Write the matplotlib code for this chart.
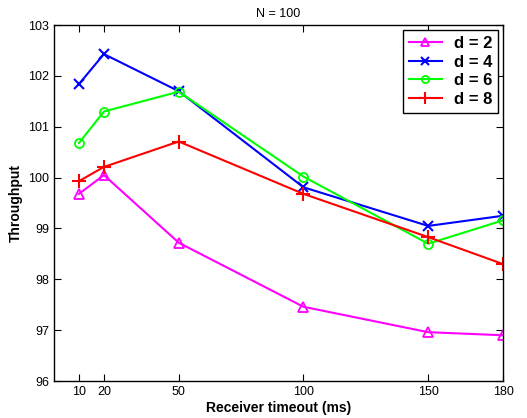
import matplotlib
matplotlib.use('Agg')
from matplotlib import pyplot as plt

plt.rcParams['font.family'] = ['Liberation Sans', 'DejaVu Sans']

timeout = [10, 20, 50, 100, 150, 180]
d2 = [99.68, 100.05, 98.72, 97.46, 96.96, 96.90]
d4 = [101.84, 102.43, 101.70, 99.81, 99.05, 99.25]
d6 = [100.68, 101.30, 101.69, 100.02, 98.70, 99.16]
d8 = [99.93, 100.21, 100.71, 99.68, 98.83, 98.30]

fig = plt.figure(figsize=(5.27, 4.18), dpi=100)
ax = fig.add_axes([0.1025, 0.0885, 0.852, 0.8515])

ax.plot(timeout, d2, '-^', color='#ff00ff', lw=1.5, ms=7, mfc='none', mew=1.3, label='d = 2')
ax.plot(timeout, d4, '-x', color='#0000ff', lw=1.5, ms=7, mew=1.5, label='d = 4')
ax.plot(timeout, d6, '-o', color='#00ff00', lw=1.5, ms=6.5, mfc='none', mew=1.3, label='d = 6')
ax.plot(timeout, d8, '-+', color='#ff0000', lw=1.5, ms=10, mew=1.5, label='d = 8')

ax.set_xlim(0, 180)
ax.set_ylim(96, 103)
ax.set_xticks(timeout)
ax.set_yticks(range(96, 104))
ax.tick_params(direction='in', top=True, right=True, labelsize=9, length=5)
for s in ax.spines.values():
    s.set_linewidth(1.0)

ax.set_title('N = 100', fontsize=9)
ax.set_xlabel('Receiver timeout (ms)', fontsize=10, fontweight='bold', labelpad=2)
ax.set_ylabel('Throughput', fontsize=10, fontweight='bold')

leg = ax.legend(loc='upper right', fancybox=False, edgecolor='black', framealpha=1,
                prop={'weight': 'bold', 'size': 12}, borderaxespad=0.3,
                handlelength=2.0, labelspacing=0.22, markerscale=0.8,
                borderpad=0.35, handletextpad=0.7)
leg.get_frame().set_linewidth(1.0)

plt.savefig('out.png', dpi=100)
